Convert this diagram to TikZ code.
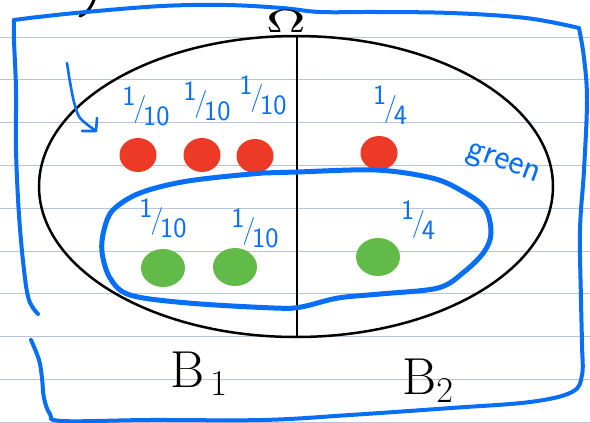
\RequirePackage{fix-cm}
\documentclass[tikz,border=0pt]{standalone}
\usepackage{tikz}
\usetikzlibrary{shapes.geometric}

\definecolor{pen}{RGB}{8,110,246}
\definecolor{ruling}{RGB}{182,196,222}
\definecolor{dotred}{RGB}{236,58,38}
\definecolor{dotgreen}{RGB}{98,186,72}

% handwritten slash fraction
\newcommand{\hfrac}[2]{\raisebox{.42em}{#1}\kern-.08em/\kern-.12em\raisebox{-.3em}{#2}}

\begin{document}
\begin{tikzpicture}[
    x=1pt, y=-1pt,
    every node/.style={font=\sffamily},
    pen/.style={draw=pen, line width=4pt, line cap=round, line join=round},
    reddot/.style={ellipse, fill=dotred, minimum width=37pt, minimum height=34pt, inner sep=0pt},
    greendot/.style={ellipse, fill=dotgreen, minimum width=44pt, minimum height=38pt, inner sep=0pt},
    prob/.style={text=pen, font=\sffamily\fontsize{28}{30}\selectfont, inner sep=0pt},
    bigletter/.style={font=\fontsize{52}{54}\selectfont, inner sep=0pt},
]

% Parameters
\def\Rx{257}
\def\Ry{150.5}

\useasboundingbox (0,0) rectangle (590,423);
\fill[white] (0,0) rectangle (590,423);

% === Ruled paper ===
\foreach \k in {0,...,9} {
    \draw[ruling, line width=1pt] (0,{37+42.8*\k}) -- (590,{37+42.8*\k});
}

% cut-off handwriting above the frame
\draw[line width=3pt, line cap=round] (94,0) .. controls (90,9) and (87,13) .. (80,16);

% === Sample space frame (hand drawn) ===
\draw[pen] plot[smooth, tension=0.6] coordinates {(38,314) (29,300) (24,270) (19,215) (16,150) (16,90) (14,40) (14,20)};
\draw[pen] plot[smooth, tension=0.6] coordinates {(14,20) (38,17) (86,12) (162,6) (226,5) (282,8) (320,12) (376,12) (451,13) (526,18) (579,28)};
\draw[pen] plot[smooth, tension=0.6] coordinates {(579,28) (584,58) (587,100) (584,170) (580,230) (581,300) (582,345) (582,375) (572,392) (530,402) (451,408) (350,415) (263,420) (150,420) (62,421) (50,414) (44,398) (42,378) (39,360) (31,340)};

% Omega
\node[inner sep=0pt] (omega) at (286,22) {\scalebox{5.5}[3.2]{$\Omega$}};

% === Ellipse split into B1 and B2 ===
\draw[line width=2.5pt] (296,186.5) ellipse [x radius=\Rx, y radius=\Ry];
\draw[line width=2pt] (297,36) -- (297,337);

% pointer into the ellipse
\draw[pen, line width=2.6pt] plot[smooth] coordinates {(67,63) (70,82) (74,102) (80,118) (96,131)};
\draw[pen, line width=2.6pt] (82,131) -- (96,131) -- (97,118);

% === Red outcomes ===
\foreach \x/\y [count=\i] in {138/155, 202/155, 255/156, 379/153} {
    \node[reddot] (r\i) at (\x,\y) {};
}
\node[prob] (pr1) at (146,106) {\hfrac{1}{10}};
\node[prob] (pr2) at (207,101) {\hfrac{1}{10}};
\node[prob] (pr3) at (263,95) {\hfrac{1}{10}};
\node[prob] (pr4) at (390,105) {\hfrac{1}{4}};

% === Green outcomes ===
\foreach \x/\y [count=\i] in {163/268, 235/267, 378/257} {
    \node[greendot] (g\i) at (\x,\y) {};
}
\node[prob] (pg1) at (163,218) {\hfrac{1}{10}};
\node[prob] (pg2) at (255,228) {\hfrac{1}{10}};
\node[prob] (pg3) at (418,220) {\hfrac{1}{4}};

% green event
\draw[pen, line width=5pt] plot[smooth cycle, tension=0.55] coordinates {(113,210) (140,193) (188,181) (263,173) (297,172) (376,170) (432,178) (462,191) (485,208) (491,233) (484,252) (464,272) (438,288) (380,294) (338,298) (301,307) (274,308) (188,303) (130,295) (110,278) (102,252) (104,230)};
\node[text=pen, font=\sffamily\fontsize{36}{38}\selectfont, rotate=-20, inner sep=0pt] (green) at (503,165) {green};

% === Partition labels ===
\node[bigletter] (b1) at (199,374) {B$_{\,1}$};
\node[bigletter] (b2) at (428,381) {B$_{2}$};

\end{tikzpicture}
\end{document}
